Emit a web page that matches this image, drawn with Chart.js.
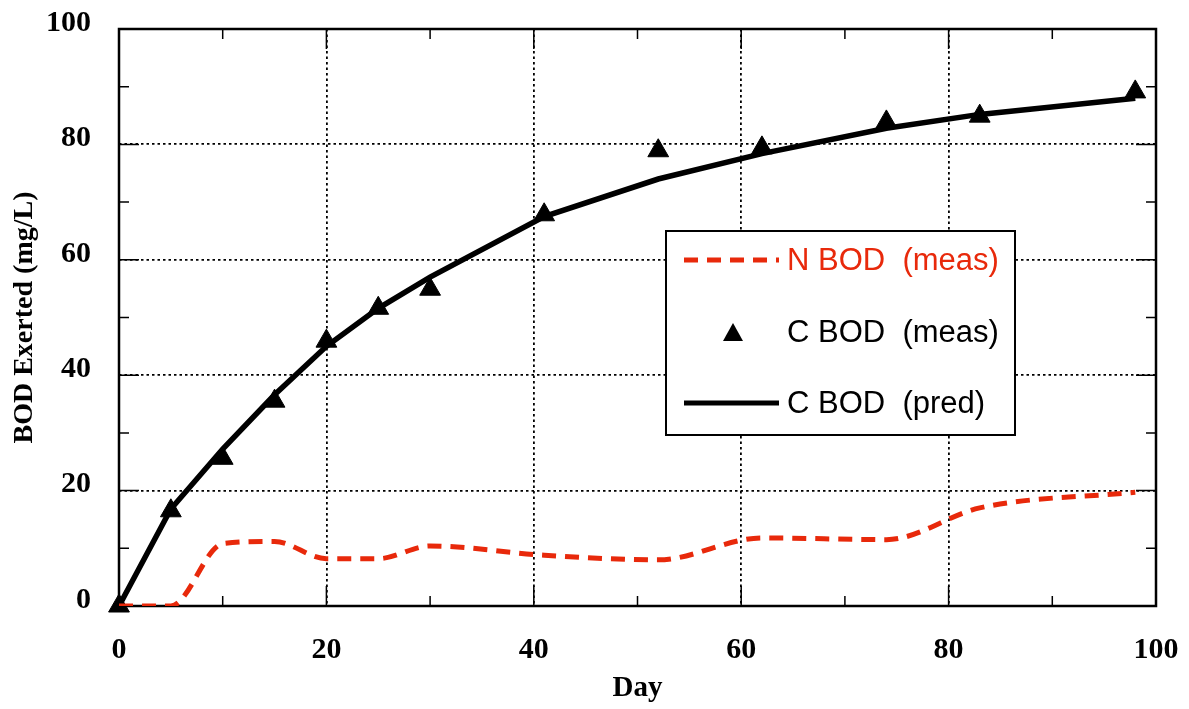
<!DOCTYPE html>
<html>
<head>
<meta charset="utf-8">
<script src="https://cdn.jsdelivr.net/npm/chart.js@4.4.1/dist/chart.umd.min.js"></script>
<style>
  html, body { margin: 0; padding: 0; background: #fff; }
  #wrap { width: 1189px; height: 709px; }
</style>
</head>
<body>
<div id="wrap"><canvas id="bodChart"></canvas></div>
<script>
// sampling days
const days = [0, 5, 10, 15, 20, 25, 30, 41, 52, 62, 74, 83, 98];
// nitrogenous BOD, measured
const nBodMeas = [0, 0, 10.8, 11.2, 8.2, 8.2, 10.4, 8.8, 8.0, 11.8, 11.5, 17.0, 19.7];
// carbonaceous BOD, measured
const cBodMeas = [0, 16.5, 25.6, 35.5, 45.9, 51.6, 54.9, 67.8, 78.9, 79.4, 83.9, 84.9, 89.1];
// carbonaceous BOD, predicted
const cBodPred = [0, 16.8, 27.2, 36.6, 45.0, 51.6, 57.0, 67.5, 74.0, 78.4, 82.8, 85.2, 88.0];
const xTicks = [0, 20, 40, 60, 80, 100];
const yTicks = [0, 20, 40, 60, 80, 100];

const red = '#e8290b';

function pts(ys) {
    return days.map((d, i) => ({ x: d, y: ys[i] }));
}

// frame, inward ticks and the boxed legend
const framePlugin = {
    id: 'frame',
    beforeDatasetsDraw(chart) {
        const { ctx, chartArea: a, scales: { x, y } } = chart;
        ctx.save();
        ctx.strokeStyle = '#000';
        ctx.lineWidth = 1.5;
        ctx.beginPath();
        for (let v = 10; v < 100; v += 10) {
            const len = v % 20 === 0 ? 20 : 10;
            const px = x.getPixelForValue(v);
            ctx.moveTo(px, a.bottom); ctx.lineTo(px, a.bottom - len);
            ctx.moveTo(px, a.top); ctx.lineTo(px, a.top + len);
            const py = y.getPixelForValue(v);
            ctx.moveTo(a.left, py); ctx.lineTo(a.left + len, py);
            ctx.moveTo(a.right, py); ctx.lineTo(a.right - len, py);
        }
        ctx.stroke();
        ctx.lineWidth = 2.5;
        ctx.strokeRect(a.left, a.top, a.right - a.left, a.bottom - a.top);
        ctx.restore();
    },
    afterDatasetsDraw(chart) {
        const { ctx } = chart;
        const bx = 666, by = 231, bw = 349, bh = 204;
        ctx.save();
        ctx.fillStyle = '#fff';
        ctx.fillRect(bx, by, bw, bh);
        ctx.strokeStyle = '#000';
        ctx.lineWidth = 2;
        ctx.strokeRect(bx, by, bw, bh);
        ctx.font = '31px "Liberation Sans", Arial, sans-serif';
        ctx.textBaseline = 'middle';
        const rows = [261, 333, 404];
        chart.data.datasets.forEach((ds, i) => {
            const yy = rows[i];
            if (ds.showLine === false) {
                ctx.fillStyle = '#000';
                ctx.beginPath();
                ctx.moveTo(733, yy - 10);
                ctx.lineTo(743, yy + 8);
                ctx.lineTo(723, yy + 8);
                ctx.closePath();
                ctx.fill();
            } else {
                ctx.strokeStyle = ds.borderColor;
                ctx.lineWidth = 5;
                ctx.setLineDash(ds.borderDash || []);
                ctx.beginPath();
                ctx.moveTo(684, yy - 1);
                ctx.lineTo(779, yy - 1);
                ctx.stroke();
                ctx.setLineDash([]);
            }
            ctx.fillStyle = i === 0 ? red : '#000';
            ctx.fillText(ds.label, 787, yy);
        });
        ctx.restore();
    }
};

const serifBold = { family: '"Liberation Serif", "Times New Roman", serif', weight: 'bold' };

new Chart(document.getElementById('bodChart'), {
    type: 'scatter',
    data: {
        datasets: [
            {
                label: 'N BOD  (meas)',
                data: pts(nBodMeas),
                showLine: true,
                borderColor: red,
                borderWidth: 5,
                borderDash: [14, 9],
                cubicInterpolationMode: 'monotone',
                pointRadius: 0
            },
            {
                label: 'C BOD  (meas)',
                data: pts(cBodMeas),
                showLine: false,
                clip: false,
                pointStyle: 'triangle',
                pointRadius: 12,
                backgroundColor: '#000',
                borderColor: '#000',
                borderWidth: 1
            },
            {
                label: 'C BOD  (pred)',
                data: pts(cBodPred),
                showLine: true,
                borderColor: '#000',
                borderWidth: 5.5,
                tension: 0,
                pointRadius: 0
            }
        ]
    },
    options: {
        responsive: true,
        maintainAspectRatio: false,
        animation: false,
        layout: { padding: { left: 0, top: 29, right: 33, bottom: 0 } },
        plugins: {
            legend: { display: false },
            tooltip: { enabled: false }
        },
        scales: {
            x: {
                type: 'linear',
                min: 0, max: 100,
                afterBuildTicks: s => { s.ticks = xTicks.map(v => ({ value: v })); },
                afterFit: s => { s.height = 103; s.paddingLeft = 0; s.paddingRight = 0; },
                grid: { color: '#000', lineWidth: 1.8, drawTicks: false },
                border: { display: false, dash: [2.5, 3] },
                ticks: { color: '#000', padding: 26, maxRotation: 0, font: { ...serifBold, size: 30 } },
                title: { display: true, text: 'Day', color: '#000', padding: { top: 0, bottom: 3 }, font: { ...serifBold, size: 29 } }
            },
            y: {
                type: 'linear',
                min: 0, max: 100,
                afterBuildTicks: s => { s.ticks = yTicks.map(v => ({ value: v })); },
                afterFit: s => { s.width = 119; s.paddingTop = 0; s.paddingBottom = 0; },
                grid: { color: '#000', lineWidth: 1.8, drawTicks: false },
                border: { display: false, dash: [2.5, 3] },
                ticks: { color: '#000', padding: 28, labelOffset: -6, font: { ...serifBold, size: 30 } },
                title: { display: true, text: 'BOD Exerted (mg/L)', color: '#000', padding: { top: 8, bottom: 0 }, font: { ...serifBold, size: 28 } }
            }
        }
    },
    plugins: [framePlugin]
});
</script>
</body>
</html>
